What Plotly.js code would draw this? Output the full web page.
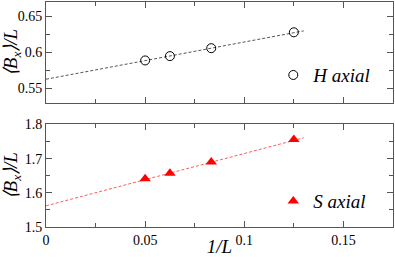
<!DOCTYPE html>
<html><head><meta charset="utf-8">
<script src="https://cdn.plot.ly/plotly-3.0.1.min.js"></script>
<style>html,body{margin:0;padding:0;background:#fff}</style>
</head><body>
<div id="chart" style="width:395px;height:257px"></div>
<script>
var invL = [0.05, 0.0625, 0.08333, 0.125];
var hAxial = [0.589, 0.595, 0.606, 0.628];
var sAxial = [1.641, 1.657, 1.690, 1.756];
var fitX = [0, 0.13];
var fitH = [0.563, 0.630];
var fitS = [1.562, 1.761];
var xTicks = [0, 0.05, 0.1, 0.15];
var xTickText = ['0', '0.05', '0.1', '0.15'];

var serif = '"Liberation Serif", "Times New Roman", Times, serif';
var frame = '#555';

var traces = [
  {x: fitX, y: fitH, xaxis: 'x2', yaxis: 'y2', mode: 'lines', showlegend: false,
   line: {color: '#555', width: 1, dash: '3px,2px'}},
  {x: invL, y: hAxial, xaxis: 'x2', yaxis: 'y2', mode: 'markers', name: '<i>H axial</i>', legend: 'legend',
   marker: {symbol: 'circle-open', size: 9, color: '#000', line: {width: 1, color: '#000'}}},
  {x: fitX, y: fitS, xaxis: 'x', yaxis: 'y', mode: 'lines', showlegend: false,
   line: {color: '#ff5a5a', width: 1, dash: '3px,2px'}},
  {x: invL, y: sAxial, xaxis: 'x', yaxis: 'y', mode: 'markers', name: '<i>S axial</i>', legend: 'legend2',
   marker: {symbol: 'triangle-up', size: 10, color: '#ff0000'}}
];

function xax(extra) {
  return Object.assign({
    range: [0, 0.175], tickmode: 'array', tickvals: xTicks, ticktext: xTickText,
    ticks: 'inside', ticklen: 6, tickwidth: 1, tickcolor: frame,
    showline: true, linecolor: frame, linewidth: 1, mirror: 'allticks',
    showgrid: false, zeroline: false,
    minor: {dtick: 0.025, ticks: 'inside', ticklen: 4, tickcolor: frame, showgrid: false},
    tickfont: {family: serif, size: 14, color: '#000'}
  }, extra);
}
function yax(extra) {
  return Object.assign({
    ticks: 'inside', ticklen: 6, tickwidth: 1, tickcolor: frame,
    showline: true, linecolor: frame, linewidth: 1, mirror: 'allticks',
    showgrid: false, zeroline: false,
    tickfont: {family: serif, size: 14, color: '#000'},
    title: {text: '<i>\u27E8B<sub>x</sub>\u27E9/L</i>', font: {family: serif, size: 19, color: '#000'}, standoff: 4}
  }, extra);
}

var layout = {
  width: 395, height: 257,
  font: {family: serif, color: '#000'},
  margin: {l: 46, r: 2, t: 2, b: 30},
  paper_bgcolor: '#fff', plot_bgcolor: '#fff',
  showlegend: true,
  xaxis: xax({anchor: 'y', domain: [0, 1],
    title: {text: '<i>1/L</i>', font: {family: serif, size: 19, color: '#000'}, standoff: 2}}),
  yaxis: yax({anchor: 'x', domain: [0, 0.4556], range: [1.5, 1.8], dtick: 0.1, tick0: 1.5,
    minor: {dtick: 0.05, ticks: 'inside', ticklen: 4, tickcolor: frame, showgrid: false}}),
  xaxis2: xax({anchor: 'y2', domain: [0, 1], showticklabels: false, matches: 'x'}),
  yaxis2: yax({anchor: 'x2', domain: [0.551, 1], range: [0.53, 0.67], dtick: 0.05, tick0: 0.55,
    minor: {dtick: 0.025, ticks: 'inside', ticklen: 4, tickcolor: frame, showgrid: false}}),
  legend: {x: 0.655, y: 0.675, xanchor: 'left', yanchor: 'middle', bgcolor: 'rgba(0,0,0,0)',
    font: {family: serif, size: 19, color: '#000'}, itemwidth: 30},
  legend2: {x: 0.655, y: 0.115, xanchor: 'left', yanchor: 'middle', bgcolor: 'rgba(0,0,0,0)',
    font: {family: serif, size: 19, color: '#000'}, itemwidth: 30}
};

Plotly.newPlot('chart', traces, layout, {displayModeBar: false, staticPlot: true});
</script>
</body></html>
